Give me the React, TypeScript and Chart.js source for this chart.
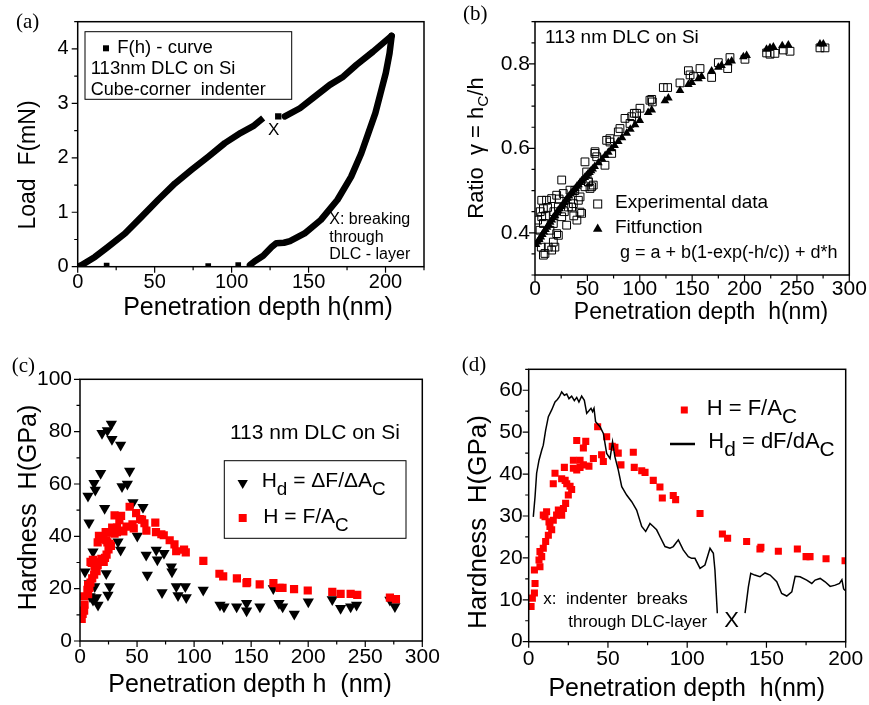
import React, { useEffect, useRef } from 'react';
import { Chart, registerables } from 'chart.js';

Chart.register(...registerables);

const PAGE_W = 869;
const PAGE_H = 705;
const SANS = '"Liberation Sans", Arial, Helvetica, sans-serif';
const SERIF = '"Liberation Serif", "Times New Roman", serif';

// ---------------- Panel (a): load-displacement curve ----------------
const loadBeforeH = [0, 2.6, 11.2, 19.9, 30.7, 41.6, 52.3, 63.2, 74, 84.8, 95.6, 106, 114, 120.5];
const loadBeforeF = [0, 0.03, 0.18, 0.37, 0.61, 0.92, 1.23, 1.53, 1.78, 2.02, 2.27, 2.46, 2.58, 2.73];
const gapPointH = [130.3];
const gapPointF = [2.76];
const loadAfterH = [134.6, 144.4, 153, 163.8, 172.5, 181.2, 191.9, 203.9];
const loadAfterF = [2.76, 2.91, 3.1, 3.34, 3.49, 3.71, 3.95, 4.24];
const unloadH = [204, 202.6, 200.2, 196.8, 193.4, 188.8, 184.2, 177.6, 168.8, 158, 147.4, 137.9, 134, 129, 126, 120.5, 115, 111.9];
const unloadF = [4.24, 3.92, 3.56, 3.19, 2.82, 2.45, 2.08, 1.65, 1.23, 0.86, 0.61, 0.47, 0.44, 0.43, 0.36, 0.2, 0.1, 0.03];
const zeroH = [18.8, 84.8, 104.3];
const zeroF = [0.02, 0.01, 0.03];
const aXMajor = [0, 50, 100, 150, 200];
const aXMinor = [25, 75, 125, 175, 225];
const aYMajor = [0, 1, 2, 3, 4];
const aYMinor = [0.5, 1.5, 2.5, 3.5, 4.5];

// ---------------- Panel (b): ratio gamma ----------------
const expH = [9.5, 15.9, 17.5, 6, 3.2, 4.8, 8, 6.4, 8, 6.4, 11, 15.9, 20.7, 25.5, 27, 31.8, 33.4, 22.3, 25.5, 30.2, 20.7, 14.3, 17.5, 36.6, 41.4, 44.5, 43, 47.7, 52.5, 55.6, 50.9, 49.3, 47.7, 57.2, 66.8, 68.4, 71.5, 79.5, 81.1, 90.7, 97, 100.2, 109.7,
  12.7, 8, 19, 22.3, 35, 43, 54, 51, 57.3, 58.9, 73.2, 71.6, 85.9, 92.3, 94.8, 111.4, 112, 122.5, 126.6, 138.4, 146.4, 148, 151.2, 157.5, 168.6, 175, 183.9, 186.1, 200.4, 221.1, 224.3, 229, 237, 243.4, 272, 276.8,
  2.5, 5, 10, 12, 18, 23, 28, 38, 40, 37];
const expG = [0.351, 0.359, 0.378, 0.366, 0.39, 0.406, 0.422, 0.438, 0.457, 0.477, 0.477, 0.481, 0.489, 0.525, 0.493, 0.461, 0.501, 0.461, 0.438, 0.418, 0.398, 0.406, 0.422, 0.469, 0.477, 0.446, 0.485, 0.509, 0.505, 0.513, 0.521, 0.544, 0.568, 0.588, 0.56, 0.619, 0.623, 0.639, 0.647, 0.659, 0.683, 0.695, 0.714,
  0.366, 0.347, 0.366, 0.394, 0.461, 0.449, 0.509, 0.52, 0.592, 0.58, 0.588, 0.615, 0.671, 0.675, 0.683, 0.716, 0.71, 0.744, 0.744, 0.755, 0.784, 0.774, 0.77, 0.789, 0.768, 0.803, 0.789, 0.815, 0.811, 0.826, 0.823, 0.825, 0.833, 0.83, 0.838, 0.838,
  0.43, 0.45, 0.44, 0.46, 0.45, 0.48, 0.45, 0.5, 0.43, 0.44];
const fitH = [1, 2.5, 4, 5.5, 7, 8.5, 10, 11.5, 13, 14.5, 16, 17.5, 19, 20.5, 22, 23.5, 25, 26.5, 28, 29.5, 31, 32.5, 34, 35.5, 37, 38.5, 40, 41.5, 43, 44.5, 46, 47.5, 49, 50.5, 52, 53.5, 55,
  57, 60.5, 64, 67, 70, 73, 76, 79.5, 83, 87.5, 91, 95.5, 100, 108, 111.4, 124, 127.3, 138.4, 146.4, 149.6, 156, 159, 168.6, 175, 178, 184.5, 187.7, 198.9, 202, 221, 224.3, 227.5, 236, 241.8, 272, 275.2];
const fitG = [0.372, 0.378, 0.384, 0.39, 0.396, 0.402, 0.408, 0.413, 0.419, 0.425, 0.43, 0.436, 0.441, 0.447, 0.452, 0.457, 0.462, 0.467, 0.472, 0.477, 0.482, 0.487, 0.492, 0.496, 0.501, 0.505, 0.51, 0.514, 0.519, 0.523, 0.527, 0.531, 0.535, 0.539, 0.543, 0.547, 0.551,
  0.557, 0.566, 0.575, 0.583, 0.591, 0.599, 0.607, 0.616, 0.625, 0.636, 0.645, 0.656, 0.666, 0.685, 0.691, 0.713, 0.719, 0.737, 0.751, 0.756, 0.765, 0.77, 0.783, 0.792, 0.796, 0.803, 0.807, 0.817, 0.82, 0.835, 0.838, 0.84, 0.843, 0.845, 0.847, 0.847];
const bXMajor = [0, 50, 100, 150, 200, 250, 300];
const bXMinor = [25, 75, 125, 175, 225, 275];
const bYMajor = [0.4, 0.6, 0.8];
const bYMinor = [0.3, 0.35, 0.45, 0.5, 0.55, 0.65, 0.7, 0.75, 0.85, 0.9];

// ---------------- Panels (c) and (d): hardness ----------------
const hdTriH = [4.4, 7.0, 7.9, 12.3, 13.4, 18.1, 21.6, 19.3, 24, 27.5, 28, 35.6, 43.5, 41.5, 36.8, 46.4, 55.2, 50.2, 35.6, 33.3, 11.4, 23, 12.9, 26, 15.8, 11.4, 24.5, 14.3, 8, 8.8, 58, 66.8, 67.8, 73.6, 59, 80, 80.6, 84.4, 92.3, 71.9, 85.9, 93.1, 108, 122.7, 126.2, 137.3, 146, 146, 157.7, 169.4, 174.4, 177.6, 187.8, 200.1, 221.1, 228.4, 237.2, 242.4, 271.6, 276];
const hdTriV = [26.5, 55.4, 45.2, 60.3, 57.7, 64.1, 50.7, 79.4, 80.4, 82.9, 77.1, 74.9, 65, 60, 59, 52.9, 51.1, 40.1, 34.8, 37.9, 34.1, 25.8, 20.8, 20.8, 13.8, 15.7, 17.6, 16.6, 22, 17, 32.9, 34.8, 31, 33.5, 25.2, 28.4, 26.5, 20.8, 20.8, 18.5, 17.4, 16.6, 19.5, 13.8, 13.1, 13.1, 14.4, 11.6, 13.1, 20.1, 14.4, 13.1, 10.3, 15, 15.9, 12.5, 13.1, 13.8, 15.7, 13.2];
const hH = [1.5, 2.3, 3.6, 4, 3.6, 7.1, 6.5, 8.2, 7.1, 9.2, 10.7, 12.4, 14.5, 13.4, 12.8, 15.5, 10.3, 9.2, 11.3, 17.6, 18.7, 20.8, 21.9, 23.3, 25, 26.1, 24, 27.1, 23, 20.8, 15.5, 16.6, 22.5, 28.2, 30.3, 32.4, 34.5, 38, 40.8, 30.3, 36, 34.5, 32.4, 28.2, 43.5, 46, 47.1, 49.2, 52.7, 54.4, 56.5, 58.2, 66, 66.6, 71.3, 73.4, 78.6, 82.8, 84.3, 91.2, 92.7, 108.1, 122.2, 125.5, 137.5, 145.9, 146.5, 157.5, 169.5, 175, 177.5, 187.6, 199.6, 221.1, 228.4, 237.2, 243, 271.6, 276.9];
const hV = [8.4, 10.4, 11.6, 13.9, 17.1, 17.9, 19.5, 20.3, 21.5, 22.3, 23.9, 25.4, 26.7, 27.5, 28.6, 29, 29.8, 30.2, 31, 30.2, 31.4, 30.2, 31.8, 33, 35, 37.1, 37.7, 36.3, 38.5, 38.9, 37.7, 40.2, 41.6, 41.4, 41, 41.6, 42.2, 41.9, 43.7, 48, 47.8, 46.2, 43.3, 43.3, 51.3, 44.6, 43, 48.9, 46.6, 46.4, 45, 42.2, 45.2, 41.6, 40.8, 40.4, 38.5, 36.9, 34.3, 34.9, 33.9, 30.6, 25.7, 24.7, 23.9, 22.1, 22.5, 21.6, 22.1, 20.3, 20.3, 19.8, 19.3, 18.8, 18, 18, 17.6, 16.6, 16];
const cXMajor = [0, 50, 100, 150, 200, 250, 300];
const cXMinor = [25, 75, 125, 175, 225, 275];
const cYMajor = [0, 20, 40, 60, 80, 100];
const cYMinor = [10, 30, 50, 70, 90];

const hdLineAH = [2.9, 4, 5, 6.5, 8.2, 9.2, 10.7, 12.4, 14.5, 16.6, 18.1, 19.3, 20.8, 22.5, 24, 25.4, 27.1, 28.8, 30.3, 31.7, 33.4, 35.1, 36.6, 38, 39.3, 40.3, 41.2, 42.2, 45, 47.1, 49.2, 51.3, 52.9, 54.4, 56.5, 58.7, 61.8, 65, 68.1, 71.3, 73.8, 76.5, 78.6, 80.7, 82.8, 86, 89.1, 91.2, 94.4, 97.5, 100.7, 102.8, 104.9, 108.1, 111.2, 114.4, 116.5, 117.5, 119];
const hdLineAV = [29.8, 34.6, 40.2, 43.3, 45.7, 46.9, 50.5, 53.7, 55.3, 57.2, 57.8, 58.4, 59.6, 58.8, 59.1, 58, 58.6, 57.5, 58.3, 57.2, 58.6, 57.6, 54.5, 55.1, 55.7, 54.9, 55.7, 52.5, 51.3, 49.7, 44.9, 43.7, 47.7, 44.1, 41, 37, 35, 33.4, 31.4, 27.5, 26.3, 28.2, 27.5, 26.7, 25.1, 22.7, 22.3, 22.7, 24.3, 21.9, 20.3, 19.9, 19.9, 17.5, 18.3, 22.3, 21.1, 17.1, 6.8];
const hdLineBH = [136.5, 138.6, 140.1, 142.6, 145.9, 149.1, 152.3, 156.5, 159.6, 162.8, 166, 168.1, 171.2, 175.4, 178.6, 180.7, 183.9, 187, 190.2, 193.4, 196.1, 197.6, 198.7, 199.7];
const hdLineBV = [6.8, 13.1, 16.3, 15.9, 15.5, 16.4, 15.9, 14.3, 11.5, 10.9, 11.9, 15.6, 15.5, 14.7, 13.9, 14.7, 15.1, 14.3, 13.2, 13.5, 13.9, 14.8, 12.6, 12.2];
const dXMajor = [0, 50, 100, 150, 200];
const dXMinor = [25, 75, 125, 175];
const dYMajor = [0, 10, 20, 30, 40, 50, 60];
const dYMinor = [5, 15, 25, 35, 45, 55, 65];

// ---------------- helpers ----------------
const pts = (xs: number[], ys: number[]) => xs.map((x, i) => ({ x, y: ys[i] }));

type Seg = { t: string; sub?: boolean };
type TextItem = { segs: Seg[]; x: number; y: number; size: number; align?: 'left' | 'center'; rot?: number; family?: string; subScale?: number; subDrop?: number };
type Mark = { shape: 'rect' | 'openRect' | 'triUp' | 'triDown' | 'line' | 'box'; x: number; y: number; w?: number; h?: number; size?: number; color?: string; lw?: number };

function drawRich(ctx: CanvasRenderingContext2D, it: TextItem) {
  const fam = it.family || SANS;
  const ss = it.subScale ?? 0.75;
  const sd = it.subDrop ?? 5;
  const fontOf = (s: Seg) => `${s.sub ? it.size * ss : it.size}px ${fam}`;
  let total = 0;
  for (const s of it.segs) { ctx.font = fontOf(s); total += ctx.measureText(s.t).width; }
  ctx.save();
  ctx.translate(it.x, it.y);
  if (it.rot) ctx.rotate(it.rot);
  let cx = it.align === 'center' ? -total / 2 : 0;
  ctx.fillStyle = '#000';
  ctx.textBaseline = 'alphabetic';
  ctx.textAlign = 'left';
  for (const s of it.segs) {
    ctx.font = fontOf(s);
    ctx.fillText(s.t, cx, s.sub ? sd : 0);
    cx += ctx.measureText(s.t).width;
  }
  ctx.restore();
}

function drawMark(ctx: CanvasRenderingContext2D, m: Mark) {
  ctx.save();
  const c = m.color || '#000';
  const s = m.size || 6;
  if (m.shape === 'box') {
    ctx.strokeStyle = c; ctx.lineWidth = m.lw || 1;
    ctx.strokeRect(m.x, m.y, m.w || 0, m.h || 0);
  } else if (m.shape === 'rect') {
    ctx.fillStyle = c; ctx.fillRect(m.x - s / 2, m.y - s / 2, s, s);
  } else if (m.shape === 'openRect') {
    ctx.strokeStyle = c; ctx.lineWidth = 1; ctx.strokeRect(m.x - s / 2, m.y - s / 2, s, s);
  } else if (m.shape === 'triUp' || m.shape === 'triDown') {
    const d = m.shape === 'triUp' ? 1 : -1;
    ctx.fillStyle = c; ctx.beginPath();
    ctx.moveTo(m.x, m.y - d * s);
    ctx.lineTo(m.x + s * 0.866, m.y + d * s * 0.5);
    ctx.lineTo(m.x - s * 0.866, m.y + d * s * 0.5);
    ctx.closePath(); ctx.fill();
  } else if (m.shape === 'line') {
    ctx.strokeStyle = c; ctx.lineWidth = m.lw || 2;
    ctx.beginPath(); ctx.moveTo(m.x, m.y); ctx.lineTo(m.x + (m.w || 0), m.y); ctx.stroke();
  }
  ctx.restore();
}

const decoPlugin = {
  id: 'deco',
  afterDraw(chart: any, _a: any, opts: any) {
    const ctx: CanvasRenderingContext2D = chart.ctx;
    const { left, right, top, bottom } = chart.chartArea;
    const xs = chart.scales.x;
    const ys = chart.scales.y;
    ctx.save();
    ctx.strokeStyle = '#000';
    ctx.lineWidth = 1.5;
    ctx.strokeRect(left, top, right - left, bottom - top);
    ctx.lineWidth = 1.2;
    ctx.beginPath();
    for (const v of opts.xMajor) { const p = xs.getPixelForValue(v); ctx.moveTo(p, bottom); ctx.lineTo(p, bottom + 6); }
    for (const v of opts.xMinor) { const p = xs.getPixelForValue(v); ctx.moveTo(p, bottom); ctx.lineTo(p, bottom + 3.5); }
    for (const v of opts.yMajor) { const p = ys.getPixelForValue(v); ctx.moveTo(left, p); ctx.lineTo(left - 6, p); }
    for (const v of opts.yMinor) { const p = ys.getPixelForValue(v); ctx.moveTo(left, p); ctx.lineTo(left - 3.5, p); }
    ctx.stroke();
    for (const m of opts.marks || []) drawMark(ctx, m);
    for (const t of opts.texts || []) drawRich(ctx, t);
    ctx.restore();
  },
};

type Panel = {
  plot: { l: number; t: number; r: number; b: number };
  xr: [number, number];
  yr: [number, number];
  xMajor: number[]; xMinor: number[]; yMajor: number[]; yMinor: number[];
  tickSize: number; xPad: number; yPad: number;
  datasets: any[];
  marks: Mark[];
  texts: TextItem[];
};

function makeConfig(p: Panel): any {
  const YW = 60, XH = 40;
  return {
    type: 'scatter',
    data: { datasets: p.datasets },
    plugins: [decoPlugin],
    options: {
      animation: false,
      responsive: false,
      maintainAspectRatio: false,
      events: [],
      layout: { padding: { left: p.plot.l - YW, top: p.plot.t, right: PAGE_W - p.plot.r, bottom: PAGE_H - p.plot.b - XH } },
      plugins: {
        legend: { display: false },
        tooltip: { enabled: false },
        deco: { xMajor: p.xMajor, xMinor: p.xMinor, yMajor: p.yMajor, yMinor: p.yMinor, marks: p.marks, texts: p.texts },
      },
      scales: {
        x: {
          type: 'linear', min: p.xr[0], max: p.xr[1],
          afterBuildTicks: (s: any) => { s.ticks = p.xMajor.map((v) => ({ value: v })); },
          afterFit: (s: any) => { s.height = XH; },
          ticks: { color: '#000', font: { family: SANS, size: p.tickSize }, padding: p.xPad, maxRotation: 0, autoSkip: false, callback: (v: any) => String(v) },
          grid: { display: false, drawTicks: false },
          border: { display: false },
        },
        y: {
          type: 'linear', min: p.yr[0], max: p.yr[1],
          afterBuildTicks: (s: any) => { s.ticks = p.yMajor.map((v) => ({ value: v })); },
          afterFit: (s: any) => { s.width = YW; },
          ticks: { color: '#000', font: { family: SANS, size: p.tickSize }, padding: p.yPad, autoSkip: false, callback: (v: any) => String(v) },
          grid: { display: false, drawTicks: false },
          border: { display: false },
        },
      },
    },
  };
}

const ROT = -Math.PI / 2;

const panelA: Panel = {
  plot: { l: 77.7, t: 21.7, r: 424, b: 266.7 }, xr: [0, 225], yr: [0, 4.5],
  xMajor: aXMajor, xMinor: aXMinor, yMajor: aYMajor, yMinor: aYMinor,
  tickSize: 20, xPad: 4, yPad: 9,
  datasets: [
    { data: pts(loadBeforeH, loadBeforeF), showLine: true, pointRadius: 0, borderColor: '#000', borderWidth: 6.5, borderJoinStyle: 'round' },
    { data: pts(loadAfterH, loadAfterF), showLine: true, pointRadius: 0, borderColor: '#000', borderWidth: 6.5, borderJoinStyle: 'round', borderCapStyle: 'round' },
    { data: pts(unloadH, unloadF), showLine: true, pointRadius: 0, borderColor: '#000', borderWidth: 6.5, borderJoinStyle: 'round', borderCapStyle: 'round' },
    { data: pts(gapPointH, gapPointF), pointStyle: 'rect', pointRadius: 4.5, backgroundColor: '#000', borderColor: '#000', borderWidth: 0 },
    { data: pts(zeroH, zeroF), pointStyle: 'rect', pointRadius: 4, backgroundColor: '#000', borderColor: '#000', borderWidth: 0 },
  ],
  marks: [
    { shape: 'box', x: 85, y: 31.7, w: 206.7, h: 67.6, lw: 1 },
    { shape: 'rect', x: 106, y: 48.3, size: 6 },
  ],
  texts: [
    { segs: [{ t: '(a)' }], x: 16, y: 28, size: 21, family: SERIF },
    { segs: [{ t: 'F(h) - curve' }], x: 117.3, y: 53.3, size: 18.5 },
    { segs: [{ t: '113nm DLC on Si' }], x: 90.7, y: 74, size: 18.5 },
    { segs: [{ t: 'Cube-corner  indenter' }], x: 90.7, y: 94.5, size: 18 },
    { segs: [{ t: 'X' }], x: 268, y: 135, size: 17 },
    { segs: [{ t: 'X: breaking' }], x: 329.3, y: 224, size: 16 },
    { segs: [{ t: 'through' }], x: 329.3, y: 241.7, size: 16 },
    { segs: [{ t: 'DLC - layer' }], x: 329.3, y: 259.3, size: 16 },
    { segs: [{ t: 'Penetration depth h(nm)' }], x: 258, y: 315, size: 25, align: 'center' },
    { segs: [{ t: 'Load  F(mN)' }], x: 35, y: 165, size: 23, align: 'center', rot: ROT },
  ],
};

const panelB: Panel = {
  plot: { l: 535, t: 21.7, r: 849.3, b: 275 }, xr: [0, 300], yr: [0.3, 0.9],
  xMajor: bXMajor, xMinor: bXMinor, yMajor: bYMajor, yMinor: bYMinor,
  tickSize: 21, xPad: 2, yPad: 5,
  datasets: [
    { data: pts(fitH, fitG), pointStyle: 'triangle', pointRadius: 5, backgroundColor: '#000', borderColor: '#000', borderWidth: 0 },
    { data: pts(expH, expG), pointStyle: 'rect', pointRadius: 5.5, backgroundColor: 'rgba(0,0,0,0)', borderColor: '#000', borderWidth: 1 },
  ],
  marks: [
    { shape: 'openRect', x: 597.7, y: 204, size: 8 },
    { shape: 'triUp', x: 597.7, y: 229, size: 5.5 },
  ],
  texts: [
    { segs: [{ t: '(b)' }], x: 463, y: 19.5, size: 21, family: SERIF },
    { segs: [{ t: '113 nm DLC on Si' }], x: 545, y: 43.3, size: 19 },
    { segs: [{ t: 'Experimental data' }], x: 615, y: 208.3, size: 19 },
    { segs: [{ t: 'Fitfunction' }], x: 615, y: 233.3, size: 19 },
    { segs: [{ t: 'g = a + b(1-exp(-h/c)) + d*h' }], x: 620, y: 258.3, size: 18 },
    { segs: [{ t: 'Penetration depth  h(nm)' }], x: 701, y: 319.3, size: 23, align: 'center' },
    { segs: [{ t: 'Ratio  γ = h' }, { t: 'C', sub: true }, { t: '/h' }], x: 483, y: 148, size: 22, align: 'center', rot: ROT, subScale: 0.7, subDrop: 5 },
  ],
};

const panelC: Panel = {
  plot: { l: 80, t: 379.3, r: 422.3, b: 641 }, xr: [0, 300], yr: [0, 100],
  xMajor: cXMajor, xMinor: cXMinor, yMajor: cYMajor, yMinor: cYMinor,
  tickSize: 21, xPad: 4, yPad: 8,
  datasets: [
    { data: pts(hH, hV), pointStyle: 'rect', pointRadius: 5.8, backgroundColor: '#ff0000', borderColor: '#ff0000', borderWidth: 0 },
    { data: pts(hdTriH, hdTriV), pointStyle: 'triangle', rotation: 180, pointRadius: 6.5, backgroundColor: '#000', borderColor: '#000', borderWidth: 0 },
  ],
  marks: [
    { shape: 'box', x: 224.3, y: 460.7, w: 181.7, h: 77.6, lw: 1 },
    { shape: 'triDown', x: 242.7, y: 483, size: 6 },
    { shape: 'rect', x: 242.7, y: 518, size: 8, color: '#ff0000' },
  ],
  texts: [
    { segs: [{ t: '(c)' }], x: 11.7, y: 372.3, size: 21, family: SERIF },
    { segs: [{ t: '113 nm DLC on Si' }], x: 230, y: 439.3, size: 21 },
    { segs: [{ t: 'H' }, { t: 'd', sub: true }, { t: ' = ΔF/ΔA' }, { t: 'C', sub: true }], x: 261.7, y: 486.7, size: 21, subScale: 0.9, subDrop: 8 },
    { segs: [{ t: 'H = F/A' }, { t: 'C', sub: true }], x: 263.3, y: 523.3, size: 21, subScale: 0.9, subDrop: 8 },
    { segs: [{ t: 'Penetration depth h  (nm)' }], x: 250, y: 691.7, size: 25, align: 'center' },
    { segs: [{ t: 'Hardness  H(GPa)' }], x: 36, y: 507.5, size: 25, align: 'center', rot: ROT },
  ],
};

const panelD: Panel = {
  plot: { l: 528.7, t: 369.3, r: 845.7, b: 641.7 }, xr: [0, 200], yr: [0, 65],
  xMajor: dXMajor, xMinor: dXMinor, yMajor: dYMajor, yMinor: dYMinor,
  tickSize: 21, xPad: 5, yPad: 6,
  datasets: [
    { data: pts(hdLineAH, hdLineAV), showLine: true, pointRadius: 0, borderColor: '#000', borderWidth: 1.5 },
    { data: pts(hdLineBH, hdLineBV), showLine: true, pointRadius: 0, borderColor: '#000', borderWidth: 1.5 },
    { data: pts(hH, hV), pointStyle: 'rect', pointRadius: 5, backgroundColor: '#ff0000', borderColor: '#ff0000', borderWidth: 0 },
  ],
  marks: [
    { shape: 'rect', x: 684.3, y: 410, size: 7, color: '#ff0000' },
    { shape: 'line', x: 670, y: 444, w: 25, lw: 2.5 },
  ],
  texts: [
    { segs: [{ t: '(d)' }], x: 461.7, y: 371, size: 21, family: SERIF },
    { segs: [{ t: 'H = F/A' }, { t: 'C', sub: true }], x: 706.7, y: 415, size: 22, subScale: 0.95, subDrop: 8 },
    { segs: [{ t: 'H' }, { t: 'd', sub: true }, { t: ' = dF/dA' }, { t: 'C', sub: true }], x: 708.3, y: 448, size: 22, subScale: 0.95, subDrop: 8 },
    { segs: [{ t: 'x:  indenter  breaks' }], x: 543.3, y: 604, size: 17 },
    { segs: [{ t: 'through DLC-layer' }], x: 568.3, y: 627.3, size: 17 },
    { segs: [{ t: 'X' }], x: 724.3, y: 627.3, size: 22 },
    { segs: [{ t: 'Penetration depth  h(nm)' }], x: 686.7, y: 696, size: 25, align: 'center' },
    { segs: [{ t: 'Hardness  H(GPa)' }], x: 486, y: 522, size: 26, align: 'center', rot: ROT },
  ],
};

function PanelChart({ panel }: { panel: Panel }) {
  const ref = useRef<HTMLCanvasElement | null>(null);
  useEffect(() => {
    if (!ref.current) return;
    const chart = new Chart(ref.current, makeConfig(panel));
    return () => chart.destroy();
  }, [panel]);
  return (
    <canvas
      ref={ref}
      width={PAGE_W}
      height={PAGE_H}
      style={{ position: 'absolute', left: 0, top: 0, width: PAGE_W, height: PAGE_H }}
    />
  );
}

export default function App() {
  return (
    <div style={{ position: 'absolute', left: 0, top: 0, width: PAGE_W, height: PAGE_H, background: '#fff', overflow: 'hidden' }}>
      <PanelChart panel={panelA} />
      <PanelChart panel={panelB} />
      <PanelChart panel={panelC} />
      <PanelChart panel={panelD} />
    </div>
  );
}
